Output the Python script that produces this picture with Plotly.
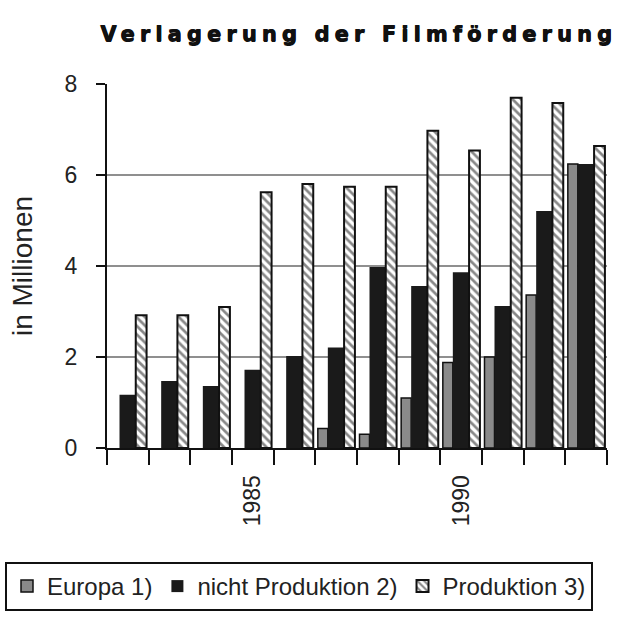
import plotly.graph_objects as go

years = list(range(1982, 1994))
europa = [None, None, None, None, None, 0.43, 0.30, 1.10, 1.88, 2.00, 3.36, 6.24]
nicht_produktion = [1.17, 1.47, 1.36, 1.72, 2.02, 2.21, 3.98, 3.56, 3.86, 3.12, 5.21, 6.24]
produktion = [2.92, 2.92, 3.10, 5.62, 5.80, 5.74, 5.74, 6.97, 6.54, 7.70, 7.58, 6.64]
names = ["Europa 1)", "nicht Produktion 2)", "Produktion 3)"]
tick_years = [1985, 1990]
boundaries = [y - 0.5 for y in years] + [years[-1] + 0.5]

FONT = "Liberation Sans"

fig = go.Figure()
fig.add_trace(go.Bar(
    x=years, y=europa, name=names[0], width=0.24, offset=-0.44,
    marker=dict(color="#8a8a8a", line=dict(color="#111111", width=1.5)),
))
fig.add_trace(go.Bar(
    x=years, y=nicht_produktion, name=names[1], width=0.39, offset=-0.20,
    marker=dict(color="#1a1a1a", line=dict(color="#1a1a1a", width=0)),
))
fig.add_trace(go.Bar(
    x=years, y=produktion, name=names[2], width=0.26, offset=0.19,
    marker=dict(color="#111111", line=dict(color="#111111", width=2),
                pattern=dict(shape="\\", fgcolor="#111111", bgcolor="white",
                             size=6, solidity=0.45)),
))

fig.update_layout(
    width=617, height=617,
    barmode="overlay",
    paper_bgcolor="white", plot_bgcolor="white",
    margin=dict(l=107, r=10, t=84, b=169, autoexpand=False),
    font=dict(family=FONT, color="#222222", size=22),
    title=dict(
        text='<span style="letter-spacing:5.1px">Verlagerung der Filmförderung</span>',
        font=dict(family="DejaVu Sans", size=21, color="#111111", weight="bold",
                  shadow="0.8px 0px 0px #111111, 0.4px 0.3px 0px #111111"),
        x=100 / 617, xanchor="left", xref="container",
        y=1 - 34 / 617, yanchor="middle", yref="container",
    ),
    showlegend=True,
    legend=dict(
        orientation="h", xref="paper", yref="paper",
        x=(5 - 107) / 500, xanchor="left", y=(448 - 562) / 364, yanchor="top",
        bordercolor="#111111", borderwidth=2, bgcolor="white",
        font=dict(family=FONT, size=24, color="#222222"),
        traceorder="normal", itemwidth=30,
    ),
    xaxis=dict(
        range=[boundaries[0], boundaries[-1]],
        tickvals=tick_years, ticktext=[str(y) for y in tick_years],
        ticks="", tickangle=-90, ticklabelstandoff=16,
        tickfont=dict(family=FONT, size=23, color="#222222"),
        showline=True, linecolor="#111111", linewidth=2,
        showgrid=False, zeroline=False,
        minor=dict(tickvals=boundaries, ticks="outside", ticklen=15,
                   tickwidth=2, tickcolor="#111111", showgrid=False),
    ),
    yaxis=dict(
        range=[0, 8], tickvals=[0, 2, 4, 6, 8],
        ticks="outside", ticklen=9, tickwidth=2, tickcolor="#111111",
        ticklabelstandoff=14,
        tickfont=dict(family=FONT, size=23, color="#222222"),
        showline=True, linecolor="#111111", linewidth=2,
        showgrid=True, gridcolor="#8f8f8f", gridwidth=2, zeroline=False,
        title=dict(text="in Millionen", standoff=24,
                   font=dict(family=FONT, size=28, color="#222222")),
    ),
    xaxis2=dict(
        overlaying="x", anchor="y2", range=[boundaries[0], boundaries[-1]],
        tickvals=boundaries, ticktext=["" for _ in boundaries],
        ticks="inside", ticklen=17, tickwidth=2, tickcolor="#111111",
        showgrid=False, zeroline=False, showline=False, side="bottom",
    ),
    yaxis2=dict(
        overlaying="y", anchor="x2", range=[0, 8], tickvals=[0, 2, 4, 6, 8],
        ticktext=["" for _ in range(5)],
        ticks="inside", ticklen=10, tickwidth=2, tickcolor="#111111",
        showgrid=False, zeroline=False, showline=False, side="left",
    ),
)

fig.write_html("out.html", config={"displayModeBar": False},
               post_script="document.body.style.margin='0px';")
